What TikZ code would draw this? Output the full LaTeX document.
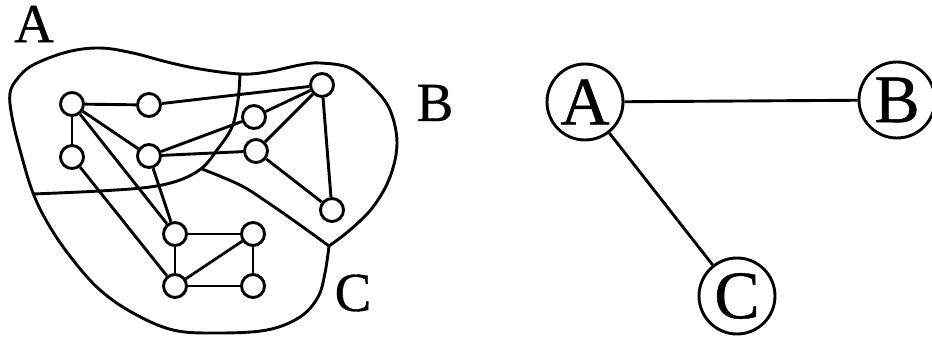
\documentclass[tikz,border=0pt]{standalone}
\usepackage{fontspec}
\setmainfont{Liberation Serif}
\newfontfamily\labfont[FakeBold=0.6]{Liberation Serif}
\begin{document}
\begin{tikzpicture}[x=1pt,y=-1pt,line width=2.9pt,
  vert/.style={circle,draw,fill=white,minimum size=23pt,inner sep=0pt},
  big/.style={circle,draw,fill=white,minimum size=76pt,inner sep=0pt,font=\labfont\fontsize{68}{68}\selectfont},
  lab/.style={inner sep=0pt,font=\labfont\fontsize{55}{55}\selectfont}]
\useasboundingbox (0,0) rectangle (932,339);
% outer boundary
\draw plot[smooth,tension=0.6] coordinates {(329,246) (350,230) (373,207) (390,177) (397,143) (390,110) (373,87) (350,68) (320,63) (300,65) (267,72) (240,74) (200,69) (167,62) (133,53) (100,48) (67,52) (33,65) (18,78) (10,93) (12,117) (20,150) (33,193) (50,227) (73,260) (100,290) (133,313) (173,330) (217,333) (267,330) (300,317) (318,297) (325,273) (329,246)};
% A / B, A / C border
\draw plot[smooth,tension=0.6] coordinates {(240,74) (238,100) (232,127) (217,150) (202,168) (180,180) (150,187) (100,191) (33,194)};
% B / C border
\draw plot[smooth,tension=0.6] coordinates {(202,169) (240,185) (267,202) (300,225) (329,246)};
% vertices
\node[vert] (n1) at (72,104) {};
\node[vert] (n2) at (149,105) {};
\node[vert] (n3) at (322,85) {};
\node[vert] (n4) at (254,117) {};
\node[vert] (n5) at (72,157) {};
\node[vert] (n6) at (149,156) {};
\node[vert] (n7) at (256,151) {};
\node[vert] (n8) at (332,210) {};
\node[vert] (n9) at (175,234) {};
\node[vert] (n10) at (253,234) {};
\node[vert] (n11) at (175,286) {};
\node[vert] (n12) at (253,286) {};
\foreach \a/\b in {n1/n2,n2/n3,n1/n5,n1/n6,n1/n9,n5/n11,n6/n4,n4/n3,n6/n7,n6/n9,n7/n3,n7/n8,n3/n8,n9/n10,n9/n11,n10/n11,n10/n12,n11/n12}
  \draw (\a) -- (\b);
% region labels
\node[lab] (la) at (34,24) {A};
\node[lab] (lb) at (435,103) {B};
\node[lab] (lc) at (353,293) {C};
% quotient graph
\node[big] (A) at (585,102) {A};
\node[big] (B) at (897,100) {B};
\node[big] (C) at (737,296) {C};
\draw (A) -- (B);
\draw (A) -- (C);
\end{tikzpicture}
\end{document}
